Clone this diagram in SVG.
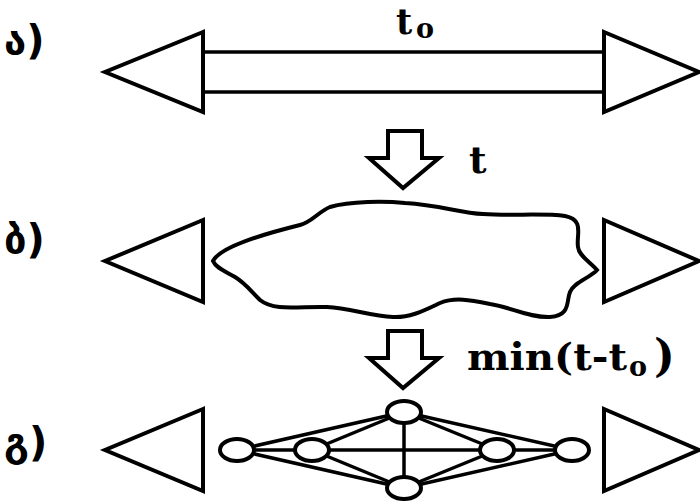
<svg xmlns="http://www.w3.org/2000/svg" width="700" height="504" viewBox="0 0 700 504">
<style>
.s{fill:#fff;stroke:#000;stroke-width:4;stroke-linejoin:miter}
.ln{stroke:#000;stroke-width:3.5;fill:none}
.blob{fill:#fff;stroke:#000;stroke-width:4}
.lab{font-family:"DejaVu Sans","DejaVu Serif",sans-serif;font-weight:bold;font-size:40px;fill:#000}
.m{font-family:"DejaVu Serif","Liberation Serif",serif;font-weight:bold;fill:#000}
.nd{fill:#fff;stroke:#000;stroke-width:4}
</style>
<rect width="700" height="504" fill="#fff"/>
<g id="labels">
<text class="lab" x="4" y="54">ა)</text>
<text class="lab" x="4" y="253">ბ)</text>
<text class="lab" x="4" y="456">გ)</text>
</g>
<g id="row-a">
<line class="ln" x1="203" y1="52" x2="604" y2="52"/>
<line class="ln" x1="203" y1="92" x2="604" y2="92"/>
<polygon class="s" points="203,32 105,72 203,112"/>
<polygon class="s" points="604,32 699,72 604,112"/>
<text class="m" x="396" y="34" font-size="35">t</text>
<text class="m" x="416" y="38" font-size="27">o</text>
</g>
<g id="arrow-1">
<polygon class="s" points="388,131 422,131 422,158 439,158 403,188 369,158 388,158"/>
<text class="m" x="469" y="173" font-size="38">t</text>
</g>
<g id="row-b">
<polygon class="s" points="203,220 105,261 203,302"/>
<polygon class="s" points="604,220 699,261 604,302"/>
<path class="blob" d="M213,261 C220,247 260,235 300,225 C312,222 318,212 330,207 C350,201 385,201 405,203 C440,205 460,213 483,214 C510,216 545,213 565,216 C585,220 576,235 578,247 C579,256 590,262 597,270 C590,278 574,282 570,292 C566,302 571,315 550,317 C530,318 510,307 490,304 C470,300 455,297 440,303 C425,310 410,318 393,317 C370,316 350,308 327,307 C300,306 275,312 260,300 C250,290 245,283 235,277 C225,271 216,268 213,261 Z"/>
</g>
<g id="arrow-2">
<polygon class="s" points="388,331 422,331 422,358 439,358 403,388 369,358 388,358"/>
<text class="m" x="467" y="370" font-size="38" textLength="160" lengthAdjust="spacingAndGlyphs">min(t-t</text>
<text class="m" x="629" y="376" font-size="27">o</text>
<text class="m" x="654" y="371" font-size="44">)</text>
</g>
<g id="row-c">
<polygon class="s" points="203,409 105,450 203,491"/>
<polygon class="s" points="604,409 699,450 604,491"/>
</g>
<g id="connectors">
<line class="ln" x1="237" y1="450" x2="572" y2="450"/>
<line class="ln" x1="404" y1="412" x2="404" y2="488"/>
<line class="ln" x1="237" y1="450" x2="404" y2="412"/>
<line class="ln" x1="237" y1="450" x2="404" y2="488"/>
<line class="ln" x1="312" y1="450" x2="404" y2="412"/>
<line class="ln" x1="312" y1="450" x2="404" y2="488"/>
<line class="ln" x1="572" y1="450" x2="404" y2="412"/>
<line class="ln" x1="572" y1="450" x2="404" y2="488"/>
<line class="ln" x1="497" y1="450" x2="404" y2="412"/>
<line class="ln" x1="497" y1="450" x2="404" y2="488"/>
</g>
<g id="node-top"><ellipse class="nd" cx="404" cy="412" rx="17" ry="11"/></g>
<g id="node-bottom"><ellipse class="nd" cx="404" cy="488" rx="17" ry="11"/></g>
<g id="node-l1"><ellipse class="nd" cx="237" cy="450" rx="17" ry="11"/></g>
<g id="node-l2"><ellipse class="nd" cx="312" cy="450" rx="17" ry="11"/></g>
<g id="node-r2"><ellipse class="nd" cx="497" cy="450" rx="17" ry="11"/></g>
<g id="node-r1"><ellipse class="nd" cx="572" cy="450" rx="17" ry="11"/></g>
</svg>
